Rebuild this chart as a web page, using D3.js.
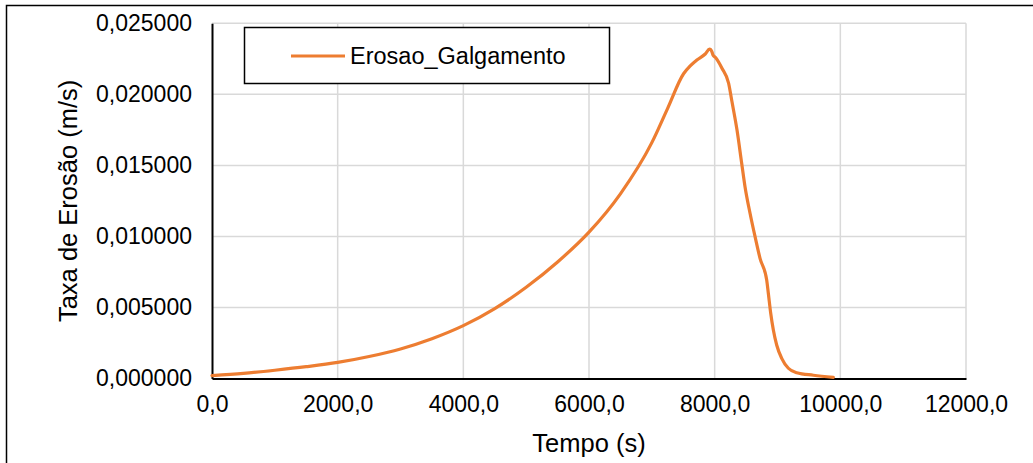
<!DOCTYPE html>
<html>
<head>
<meta charset="utf-8">
<style>
  body { margin: 0; background: #fff; }
  svg { display: block; font-family: "Liberation Sans", Arial, sans-serif; }
</style>
</head>
<body>
<svg width="1033" height="463"></svg>
<script src="https://d3js.org/d3.v7.min.js"></script>
<script>

  // data
  var seriesName = "Erosao_Galgamento";
  var tempo = [0, 500, 1000, 1500, 2000, 2500, 3000, 3500, 4000, 4500, 5000, 5500, 6000, 6500,
               7000, 7250, 7505, 7611, 7717, 7850, 7919, 7956, 7973, 8010, 8116, 8222, 8275,
               8355, 8430, 8483, 8563, 8643, 8722, 8828, 8854, 8892, 8934, 8987, 9067, 9173,
               9306, 9571, 9889];
  var taxa = [0.00020, 0.00036, 0.00058, 0.00083, 0.00113, 0.00155, 0.00208, 0.00280, 0.00372,
              0.00492, 0.00642, 0.00820, 0.01030, 0.01300, 0.01660, 0.01900, 0.02145, 0.02200,
              0.02242, 0.02284, 0.02318, 0.02300, 0.02277, 0.02261, 0.02184, 0.02078, 0.01949,
              0.01750, 0.01515, 0.01350, 0.01163, 0.00998, 0.00846, 0.00693, 0.00600, 0.00459,
              0.00341, 0.00236, 0.00142, 0.00072, 0.00041, 0.00023, 0.00008];
  var xTicks = [0, 2000, 4000, 6000, 8000, 10000, 12000];
  var yTicks = [0, 0.005, 0.01, 0.015, 0.02, 0.025];

  var svg = d3.select("svg"),
      pLeft = 212, pRight = 966, pTop = 23.3, pBottom = 378.5;

  var x = d3.scaleLinear().domain([0, 12000]).range([pLeft, pRight]),
      y = d3.scaleLinear().domain([0, 0.025]).range([pBottom, pTop]);

  var fmtX = function(d) { return d3.format(".1f")(d).replace(".", ","); },
      fmtY = function(d) { return d3.format(".6f")(d).replace(".", ","); };

  // chart frame
  svg.append("rect")
      .attr("x", 6.5).attr("y", 5.5)
      .attr("width", 1060).attr("height", 480)
      .attr("fill", "none").attr("stroke", "#000").attr("stroke-width", 1.5);

  // gridlines
  svg.append("g").selectAll("line").data(xTicks.slice(1)).enter().append("line")
      .attr("x1", x).attr("x2", x).attr("y1", pTop).attr("y2", pBottom)
      .attr("stroke", "#d9d9d9").attr("stroke-width", 1.5);
  svg.append("g").selectAll("line").data(yTicks.slice(1)).enter().append("line")
      .attr("x1", pLeft).attr("x2", pRight).attr("y1", y).attr("y2", y)
      .attr("stroke", "#d9d9d9").attr("stroke-width", 1.5);

  // axes
  var xAxis = svg.append("g").attr("transform", "translate(0," + pBottom + ")")
      .call(d3.axisBottom(x).tickValues(xTicks).tickFormat(fmtX).tickSize(0).tickPadding(17));
  var yAxis = svg.append("g").attr("transform", "translate(" + pLeft + ",0)")
      .call(d3.axisLeft(y).tickValues(yTicks).tickFormat(fmtY).tickSize(0).tickPadding(20));

  [xAxis, yAxis].forEach(function(a) {
    a.select(".domain").attr("stroke", "#000").attr("stroke-width", 2);
    a.selectAll("text").attr("font-size", 23).attr("fill", "#000")
        .attr("font-family", "Liberation Sans, Arial, sans-serif");
  });

  // the series
  var pts = tempo.map(function(t, i) { return [t, taxa[i]]; });
  var line = d3.line()
      .x(function(d) { return x(d[0]); })
      .y(function(d) { return y(d[1]); })
      .curve(d3.curveMonotoneX);

  svg.append("path").datum(pts)
      .attr("d", line)
      .attr("fill", "none")
      .attr("stroke", "#ed7d31")
      .attr("stroke-width", 3.2)
      .attr("stroke-linejoin", "round")
      .attr("stroke-linecap", "round");

  // axis titles
  svg.append("text")
      .attr("x", (pLeft + pRight) / 2).attr("y", 452)
      .attr("text-anchor", "middle").attr("font-size", 25.5)
      .text("Tempo (s)");
  svg.append("text")
      .attr("transform", "translate(77," + (pTop + pBottom) / 2 + ") rotate(-90)")
      .attr("text-anchor", "middle").attr("font-size", 25.5)
      .text("Taxa de Erosão (m/s)");

  // legend
  var lg = svg.append("g");
  lg.append("rect")
      .attr("x", 244.5).attr("y", 27.5).attr("width", 365).attr("height", 56)
      .attr("fill", "#fff").attr("stroke", "#000").attr("stroke-width", 1.5);
  lg.append("line")
      .attr("x1", 291).attr("x2", 345).attr("y1", 56).attr("y2", 56)
      .attr("stroke", "#ed7d31").attr("stroke-width", 3.2);
  lg.append("text")
      .attr("x", 350).attr("y", 64)
      .attr("font-size", 23.5)
      .text(seriesName);

</script>
</body>
</html>
